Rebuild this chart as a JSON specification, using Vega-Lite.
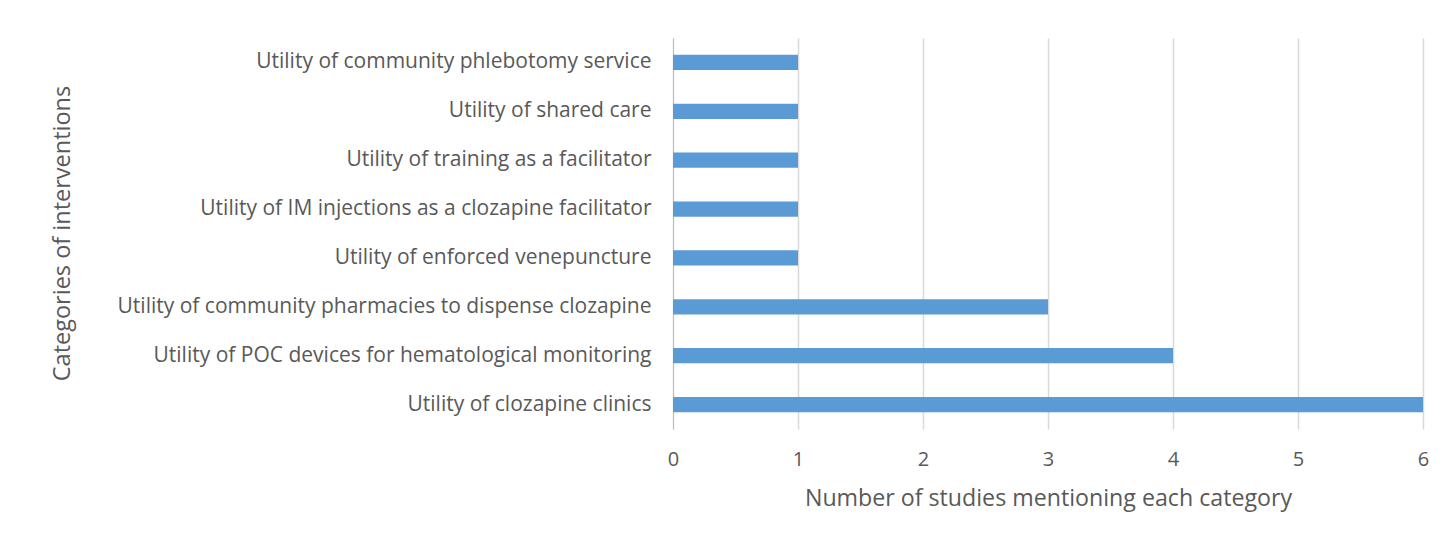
{
  "$schema": "https://vega.github.io/schema/vega-lite/v6.json",
  "width": 750,
  "height": 391,
  "autosize": "none",
  "padding": {"left": 673, "top": 38, "right": 28, "bottom": 114},
  "background": "white",
  "data": {
    "values": [
      {"category": "Utility of community phlebotomy service\u00a0", "count": 1},
      {"category": "Utility of shared care", "count": 1},
      {"category": "Utility of training as a facilitator", "count": 1},
      {"category": "Utility of IM injections as a clozapine facilitator", "count": 1},
      {"category": "Utility of enforced venepuncture", "count": 1},
      {"category": "Utility of community pharmacies to dispense clozapine", "count": 3},
      {"category": "Utility of POC devices for hematological monitoring", "count": 4},
      {"category": "Utility of clozapine clinics", "count": 6}
    ]
  },
  "mark": {"type": "bar", "color": "#5B9BD5"},
  "encoding": {
    "y": {
      "field": "category",
      "type": "nominal",
      "sort": null,
      "scale": {"paddingInner": 0.69, "paddingOuter": 0.345},
      "axis": {
        "title": "Categories of interventions",
        "titleFontSize": 23.5,
        "titleFontWeight": "normal",
        "titleColor": "#595959",
        "titleFont": "Open Sans",
        "titleX": -611,
        "titleY": 195,
        "titleAngle": -90,
        "titleAlign": "center",
        "titleBaseline": "middle",
        "labelFont": "Open Sans",
        "labelFontSize": 21,
        "labelColor": "#595959",
        "labelPadding": 22,
        "labelLimit": 700,
        "ticks": false,
        "domain": true,
        "domainColor": "#BFBFBF",
        "grid": false
      }
    },
    "x": {
      "field": "count",
      "type": "quantitative",
      "scale": {"domain": [0, 6], "nice": false},
      "axis": {
        "title": "Number of studies mentioning each category",
        "titleFontSize": 23.2,
        "titleFontWeight": "normal",
        "titleColor": "#595959",
        "titleFont": "Open Sans",
        "titlePadding": 18,
        "values": [0, 1, 2, 3, 4, 5, 6],
        "labelFont": "Open Sans",
        "labelFontSize": 20,
        "labelColor": "#595959",
        "labelPadding": 20,
        "labelFlush": false,
        "ticks": false,
        "domain": false,
        "grid": true,
        "gridColor": "#D9D9D9",
        "gridWidth": 1.5
      }
    }
  },
  "config": {"view": {"stroke": null}}
}
